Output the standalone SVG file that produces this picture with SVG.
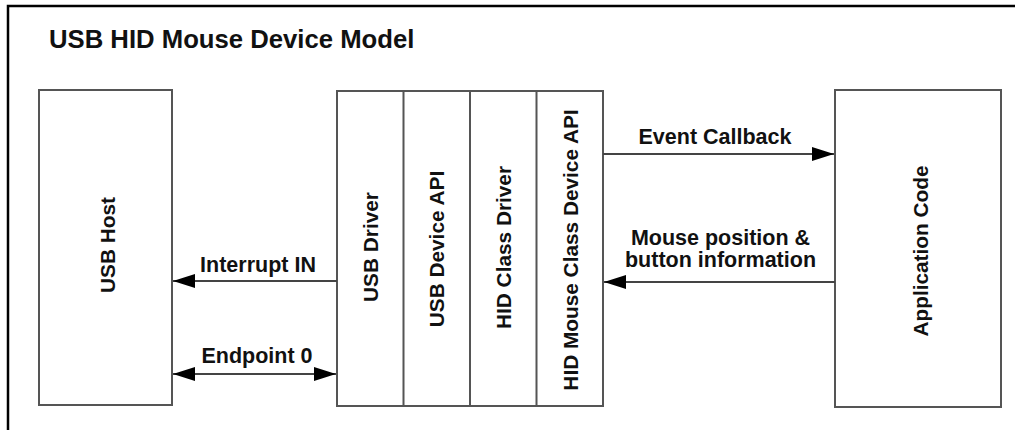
<svg xmlns="http://www.w3.org/2000/svg" width="1015" height="430" viewBox="0 0 1015 430">
<style>
text{font-family:"Liberation Sans",Arial,sans-serif;font-weight:bold;fill:#111;}
.lbl{font-size:21.5px;text-anchor:middle;}
.vt{font-size:20.8px;text-anchor:middle;dominant-baseline:central;}
.box{fill:#fff;stroke:#555;stroke-width:2;}
.conn{stroke:#444;stroke-width:2;fill:none;}
</style>
<defs>
<marker id="ah" markerUnits="userSpaceOnUse" markerWidth="24" markerHeight="16" refX="22" refY="7" orient="auto-start-reverse">
<path d="M0,0 L22,7 L0,14 Z" fill="#000"/>
</marker>
</defs>
<rect width="1015" height="430" fill="#fff"/>
<path d="M8,430 V6 H1015" fill="none" stroke="#000" stroke-width="2.5"/>
<text x="49" y="48" style="font-size:25.7px">USB HID Mouse Device Model</text>

<g id="usb-host">
<rect class="box" x="39" y="90" width="133" height="315"/>
<text class="vt" transform="translate(107,245) rotate(-90)">USB Host</text>
</g>
<g id="stack">
<rect class="box" x="337" y="91" width="266" height="315"/>
<line class="box" x1="403.5" y1="91" x2="403.5" y2="406"/>
<line class="box" x1="470" y1="91" x2="470" y2="406"/>
<line class="box" x1="536.5" y1="91" x2="536.5" y2="406"/>
</g>
<g id="usb-driver"><text class="vt" transform="translate(370,247) rotate(-90)">USB Driver</text></g>
<g id="usb-device-api"><text class="vt" transform="translate(436.5,249) rotate(-90)">USB Device API</text></g>
<g id="hid-class-driver"><text class="vt" transform="translate(503,247.5) rotate(-90)">HID Class Driver</text></g>
<g id="hid-mouse-api"><text class="vt" transform="translate(570,250) rotate(-90)">HID Mouse Class Device API</text></g>
<g id="app-code">
<rect class="box" x="835" y="90" width="166" height="317"/>
<text class="vt" transform="translate(920,251) rotate(-90)">Application Code</text>
</g>

<g id="connectors">
<line class="conn" x1="337" y1="281" x2="173" y2="281" marker-end="url(#ah)"/>
<line class="conn" x1="173" y1="374" x2="336" y2="374" marker-start="url(#ah)" marker-end="url(#ah)"/>
<line class="conn" x1="603" y1="154" x2="834" y2="154" marker-end="url(#ah)"/>
<line class="conn" x1="835" y1="282" x2="604" y2="282" marker-end="url(#ah)"/>
<text class="lbl" x="258" y="272">Interrupt IN</text>
<text class="lbl" x="257" y="363">Endpoint 0</text>
<text class="lbl" x="715" y="144">Event Callback</text>
<text class="lbl" x="720.5" y="245">Mouse position &amp;</text>
<text class="lbl" x="720.5" y="267">button information</text>
</g>
</svg>
